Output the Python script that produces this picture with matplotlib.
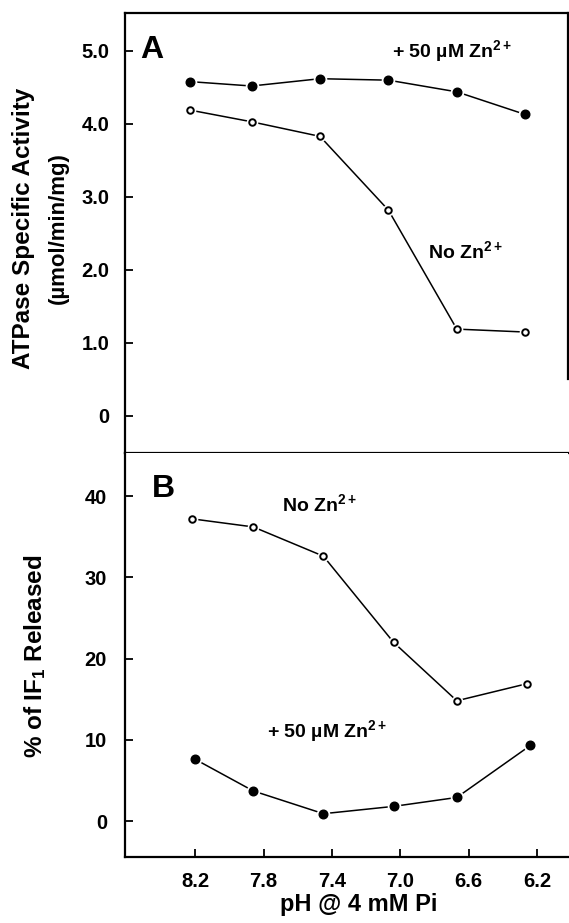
import matplotlib
matplotlib.use("Agg")
import matplotlib.pyplot as plt

plt.rcParams['font.family'] = ['Liberation Sans', 'DejaVu Sans']
plt.rcParams['font.weight'] = 'bold'
plt.rcParams['mathtext.fontset'] = 'custom'
plt.rcParams['mathtext.rm'] = 'Liberation Sans:bold'
plt.rcParams['mathtext.it'] = 'Liberation Sans:bold'
plt.rcParams['mathtext.bf'] = 'Liberation Sans:bold'
plt.rcParams['mathtext.default'] = 'rm'

# ---- data ----
ph_a = [8.23, 7.87, 7.47, 7.07, 6.67, 6.27]
atpase_zn = [4.58, 4.52, 4.62, 4.60, 4.44, 4.13]
atpase_nozn = [4.19, 4.03, 3.83, 2.82, 1.19, 1.15]

ph_b_open = [8.22, 7.86, 7.45, 7.04, 6.67, 6.26]
if1_nozn = [37.2, 36.2, 32.6, 22.0, 14.8, 16.9]
ph_b_filled = [8.20, 7.86, 7.45, 7.04, 6.67, 6.24]
if1_zn = [7.6, 3.7, 0.9, 1.8, 2.9, 9.3]

x_ticks = [8.2, 7.8, 7.4, 7.0, 6.6, 6.2]
x_ticklabels = ["8.2", "7.8", "7.4", "7.0", "6.6", "6.2"]
ya_ticks = [0, 1, 2, 3, 4, 5]
ya_ticklabels = ["0", "1.0", "2.0", "3.0", "4.0", "5.0"]
yb_ticks = [0, 10, 20, 30, 40]
yb_ticklabels = ["0", "10", "20", "30", "40"]

W, H = 569, 923
fig = plt.figure(figsize=(W / 100, H / 100), dpi=100)

def frac(x0, y0, x1, y1):
    return [x0 / W, 1 - y1 / H, (x1 - x0) / W, (y1 - y0) / H]

axA = fig.add_axes(frac(125, 13, 568, 453))
axB = fig.add_axes(frac(125, 453, 568, 857))

XLIM = (8.61, 6.02)


def series(ax, x, y, filled):
    ax.plot(x, y, color='black', lw=1.1, zorder=2)
    if filled:
        ax.plot(x, y, ls='none', marker='o', ms=8.8, mfc='white', mec='white', zorder=3)
        ax.plot(x, y, ls='none', marker='o', ms=6.2, mfc='black', mec='black', zorder=4)
    else:
        ax.plot(x, y, ls='none', marker='o', ms=7.4, mfc='white', mec='white', zorder=3)
        ax.plot(x, y, ls='none', marker='o', ms=4.7, mfc='white', mec='black', mew=1.4, zorder=4)


for ax in (axA, axB):
    ax.set_xlim(*XLIM)
    ax.tick_params(direction='in', length=6, width=1.3, labelsize=14.5)
    for s in ax.spines.values():
        s.set_linewidth(1.6)

# Panel A
series(axA, ph_a, atpase_zn, True)
series(axA, ph_a, atpase_nozn, False)
axA.set_ylim(-0.507, 5.52)
axA.set_yticks(ya_ticks)
axA.set_yticklabels(ya_ticklabels)
axA.set_xticks([])
axA.tick_params(axis='y', pad=11)
axA.spines['right'].set_bounds(0.5, 5.52)
axA.text(8.52, 4.9, "A", fontsize=23, fontweight='bold', va='baseline', ha='left')
axA.text(7.05, 4.92, "+ 50 µM Zn$^{2+}$", fontsize=14, va='baseline', ha='left')
axA.text(6.84, 2.16, "No Zn$^{2+}$", fontsize=14, va='baseline', ha='left')

# Panel B
series(axB, ph_b_open, if1_nozn, False)
series(axB, ph_b_filled, if1_zn, True)
axB.set_ylim(-4.43, 45.3)
axB.set_yticks(yb_ticks)
axB.set_yticklabels(yb_ticklabels)
axB.set_xticks(x_ticks)
axB.set_xticklabels(x_ticklabels)
axB.tick_params(axis='y', pad=13)
axB.tick_params(axis='x', pad=11)
axB.spines['right'].set_visible(False)
axB.spines['top'].set_visible(False)
axB.text(8.45, 39.9, "B", fontsize=23, fontweight='bold', va='baseline', ha='left')
axB.text(7.69, 38.2, "No Zn$^{2+}$", fontsize=14, va='baseline', ha='left')
axB.text(7.78, 10.3, "+ 50 µM Zn$^{2+}$", fontsize=14, va='baseline', ha='left')

# Axis labels
fig.text(24 / W, 1 - 228 / H, "ATPase Specific Activity", rotation=90,
         fontsize=17.5, fontweight='bold', ha='center', va='center')
fig.text(58 / W, 1 - 228 / H, "(µmol/min/mg)", rotation=90,
         fontsize=16, fontweight='bold', ha='center', va='center')
fig.text(35 / W, 1 - 656 / H, "% of IF$_1$ Released", rotation=90,
         fontsize=17.5, fontweight='bold', ha='center', va='center')
fig.text(359 / W, 1 - 905 / H, "pH @ 4 mM Pi", fontsize=17,
         fontweight='bold', ha='center', va='center')

fig.savefig("out.png", dpi=100)
